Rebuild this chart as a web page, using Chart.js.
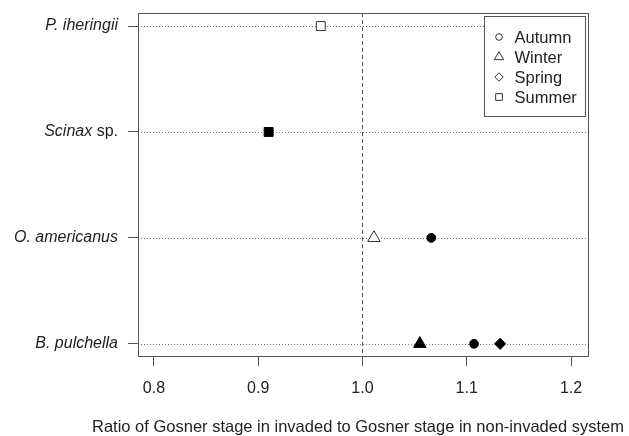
<!DOCTYPE html>
<html>
<head>
<meta charset="utf-8">
<script src="https://cdn.jsdelivr.net/npm/chart.js@4/dist/chart.umd.min.js"></script>
<style>
  html, body { margin: 0; padding: 0; background: #fff; }
  #wrap { width: 629px; height: 436px; }
</style>
</head>
<body>
<div id="wrap"><canvas id="dotChart"></canvas></div>
<script>
// rows, top to bottom
const species = ["P. iheringii", "Scinax sp.", "O. americanus", "B. pulchella"];
const seasons = ["Autumn", "Winter", "Spring", "Summer"];
const seasonStyles = ["circle", "triangle", "rectRot", "rect"];

// ratio per species (null = not measured)
const autumnValues = [null, null, 1.066, 1.107];
const winterValues = [null, null, 1.011, 1.055];
const springValues = [null, null, null, 1.132];
const summerValues = [0.960, 0.910, null, null];

// filled marker = true, open marker = false
const autumnFilled = [false, false, true, true];
const winterFilled = [false, false, false, true];
const springFilled = [false, false, false, true];
const summerFilled = [false, true, false, false];

const xTicks = [0.8, 0.9, 1.0, 1.1, 1.2];
const referenceX = 1.0;
const xTitle = "Ratio of Gosner stage in invaded to Gosner stage in non-invaded system";

const ink = "#222";
const frame = "#555";
const fontFamily = "'Liberation Sans', Arial, sans-serif";

const seasonValues = [autumnValues, winterValues, springValues, summerValues];
const seasonFilled = [autumnFilled, winterFilled, springFilled, summerFilled];
const pointSizes = { circle: 4.4, triangle: 7.2, rectRot: 5.6, rect: 6.3 };

function buildDataset(i) {
  const points = [];
  const fills = [];
  seasonValues[i].forEach((v, row) => {
    if (v === null) return;
    points.push({ x: v, y: row + 1 });
    fills.push(seasonFilled[i][row] ? "#000" : "#fff");
  });
  const style = seasonStyles[i];
  return {
    label: seasons[i],
    data: points,
    pointStyle: style,
    pointRadius: pointSizes[style],
    pointHoverRadius: pointSizes[style],
    backgroundColor: fills,
    borderColor: fills.map((f) => (f === "#fff" ? "#333" : "#000")),
    borderWidth: 1,
  };
}

const dotLinesPlugin = {
  id: "dotLines",
  beforeDatasetsDraw(chart) {
    const { ctx, chartArea } = chart;
    const xs = chart.scales.x;
    const ys = chart.scales.y;
    ctx.save();
    ctx.lineWidth = 1;
    ctx.strokeStyle = "#777";
    ctx.setLineDash([1, 2]);
    species.forEach((name, i) => {
      const y = Math.round(ys.getPixelForValue(i + 1)) + 0.5;
      ctx.beginPath();
      ctx.moveTo(chartArea.left, y);
      ctx.lineTo(chartArea.right, y);
      ctx.stroke();
    });
    ctx.strokeStyle = "#555";
    ctx.setLineDash([4, 3]);
    const rx = Math.round(xs.getPixelForValue(referenceX)) + 0.5;
    ctx.beginPath();
    ctx.moveTo(rx, chartArea.top);
    ctx.lineTo(rx, chartArea.bottom);
    ctx.stroke();
    ctx.setLineDash([]);
    ctx.strokeStyle = frame;
    ctx.strokeRect(chartArea.left + 0.5, chartArea.top + 0.5,
      chartArea.right - chartArea.left, chartArea.bottom - chartArea.top);
    ctx.restore();
  },
  afterDraw(chart) {
    const { ctx, chartArea } = chart;
    const ys = chart.scales.y;
    ctx.save();
    ctx.fillStyle = ink;
    ctx.textBaseline = "middle";
    ctx.textAlign = "right";
    const labelRight = 118;
    species.forEach((name, i) => {
      const y = ys.getPixelForValue(i + 1);
      if (name.endsWith(" sp.")) {
        ctx.font = "16px " + fontFamily;
        const tail = " sp.";
        ctx.fillText(tail, labelRight, y);
        const tw = ctx.measureText(tail).width;
        ctx.font = "italic 16px " + fontFamily;
        ctx.fillText(name.slice(0, -tail.length), labelRight - tw, y);
      } else {
        ctx.font = "italic 16px " + fontFamily;
        ctx.fillText(name, labelRight, y);
      }
    });

    // axis title, wider than the plot so drawn here
    ctx.textAlign = "center";
    ctx.font = "16.5px " + fontFamily;
    ctx.fillText(xTitle, (chartArea.left + chartArea.right) / 2 - 5, 427);

    // legend box, top right inside the plot
    const box = { left: 484.5, top: 16.5, width: 101, height: 100 };
    ctx.fillStyle = "#fff";
    ctx.fillRect(box.left, box.top, box.width, box.height);
    ctx.strokeStyle = frame;
    ctx.lineWidth = 1;
    ctx.strokeRect(box.left, box.top, box.width, box.height);
    ctx.textAlign = "left";
    ctx.font = "16.5px " + fontFamily;
    seasons.forEach((s, i) => {
      const cy = box.top + 20.5 + i * 20;
      const cx = box.left + 14.5;
      ctx.strokeStyle = "#333";
      ctx.fillStyle = "#fff";
      ctx.lineWidth = 1;
      Chart.helpers.drawPoint(ctx, {
        pointStyle: seasonStyles[i],
        radius: pointSizes[seasonStyles[i]] * 0.75,
        rotation: 0,
        borderWidth: 1,
      }, cx, cy);
      ctx.fillStyle = ink;
      ctx.fillText(s, box.left + 30, cy + 1);
    });
    ctx.restore();
  },
};

new Chart(document.getElementById("dotChart"), {
  type: "scatter",
  data: { datasets: seasons.map((s, i) => buildDataset(i)) },
  options: {
    responsive: true,
    maintainAspectRatio: false,
    animation: false,
    layout: { padding: { left: 0, right: 41, top: 13, bottom: 0 } },
    plugins: {
      legend: { display: false },
      tooltip: { enabled: false },
    },
    scales: {
      x: {
        type: "linear",
        min: 0.7847,
        max: 1.2163,
        afterBuildTicks(scale) {
          scale.ticks = xTicks.map((v) => ({ value: v }));
        },
        afterFit(scale) {
          scale.height = 80;
        },
        border: { display: false },
        grid: {
          drawOnChartArea: false,
          drawTicks: true,
          tickLength: 10,
          color: frame,
        },
        ticks: {
          color: ink,
          padding: 13,
          font: { family: fontFamily, size: 16 },
          callback(value) {
            return value.toFixed(1);
          },
        },
      },
      y: {
        type: "linear",
        reverse: true,
        min: 0.877,
        max: 4.115,
        afterBuildTicks(scale) {
          scale.ticks = species.map((n, i) => ({ value: i + 1 }));
        },
        afterFit(scale) {
          scale.width = 138;
        },
        border: { display: false },
        grid: {
          drawOnChartArea: false,
          drawTicks: true,
          tickLength: 10,
          color: frame,
        },
        ticks: { display: false },
      },
    },
  },
  plugins: [dotLinesPlugin],
});
</script>
</body>
</html>
